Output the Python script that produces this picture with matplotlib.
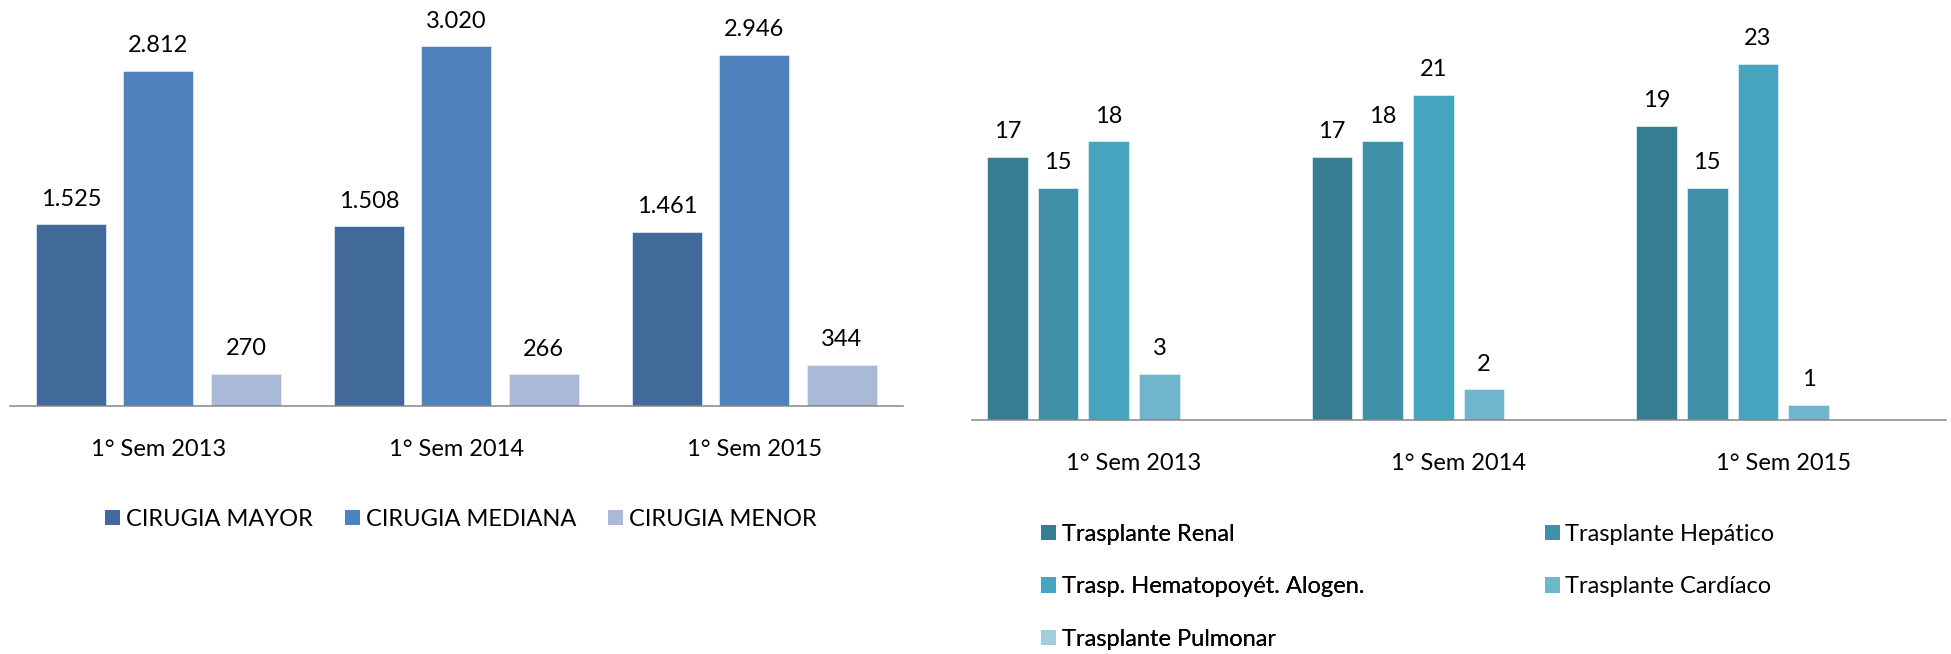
import numpy as np
import matplotlib
matplotlib.use("Agg")
import matplotlib.pyplot as plt
from matplotlib.patches import Patch

plt.rcParams['font.family'] = ['Lato', 'DejaVu Sans']

# ---------------- data ----------------
categories = ["1° Sem 2013", "1° Sem 2014", "1° Sem 2015"]

cir_series = ["CIRUGIA MAYOR", "CIRUGIA MEDIANA", "CIRUGIA MENOR"]
cir_mayor = [1525, 1508, 1461]
cir_mediana = [2812, 3020, 2946]
cir_menor = [270, 266, 344]
cir_colors = ["#41699A", "#4F81BD", "#A9B9D7"]

tx_series = ["Trasplante Renal", "Trasplante Hepático",
             "Trasp. Hematopoyét. Alogen.", "Trasplante Cardíaco",
             "Trasplante Pulmonar"]
tx_renal = [17, 17, 19]
tx_hepatico = [15, 18, 15]
tx_hemato = [18, 21, 23]
tx_cardiaco = [3, 2, 1]
tx_pulmonar = [np.nan, np.nan, np.nan]
tx_colors = ["#367D91", "#3F90A8", "#48A5BF", "#6FB5CC", "#A2CDDC"]

# ---------------- figure ----------------
W, H = 1951, 654
fig = plt.figure(figsize=(W / 100, H / 100), dpi=100)
FS = 17
HL = 0.635   # legend square size (em)


def fmt_thousands(v):
    return f"{int(v):,}".replace(",", ".")


def style_axes(ax):
    for s in ["top", "left", "right"]:
        ax.spines[s].set_visible(False)
    ax.spines["bottom"].set_color("#868686")
    ax.spines["bottom"].set_linewidth(1.1)
    ax.set_yticks([])
    ax.set_xticks(range(len(categories)))
    ax.set_xticklabels(categories, fontsize=FS, va="baseline")
    ax.tick_params(axis="x", length=0, pad=36)
    ax.set_xlim(-0.5, len(categories) - 0.5)
    ax.patch.set_alpha(0)


# ---------- left chart ----------
axL = fig.add_axes([9.5 / W, 248.3 / H, 893.8 / W, 405.7 / H])
x = np.arange(len(categories))
cir_data = [cir_mayor, cir_mediana, cir_menor]
stepL, widthL = 0.2937, 0.235
for i, (vals, col) in enumerate(zip(cir_data, cir_colors)):
    pos = x + (i - 1) * stepL
    axL.bar(pos, vals, width=widthL, color=col, edgecolor="#e8eef6",
            linewidth=0.5)
    for px, v in zip(pos, vals):
        axL.annotate(fmt_thousands(v), (px, v), xytext=(0, 13.2),
                     textcoords="offset points", ha="center", va="baseline",
                     fontsize=FS, color="black")
axL.set_ylim(0, 3405.6)
style_axes(axL)

handlesL = [Patch(facecolor=c, edgecolor="none") for c in cir_colors]
fig.legend(handlesL, cir_series, loc="center left",
           bbox_to_anchor=(105 / W, 1 - 519.5 / H), ncol=3, frameon=False,
           fontsize=FS, borderpad=0, borderaxespad=0,
           handlelength=HL, handleheight=HL, handletextpad=0.25,
           columnspacing=1.35)

# ---------- right chart ----------
axR = fig.add_axes([971.7 / W, 234 / H, 973.9 / W, 420 / H])
tx_data = [tx_renal, tx_hepatico, tx_hemato, tx_cardiaco, tx_pulmonar]
n_slots = 6
stepR, widthR = 0.1562, 0.125
for i, (vals, col) in enumerate(zip(tx_data, tx_colors)):
    pos = x + (i - (n_slots - 1) / 2) * stepR
    axR.bar(pos, vals, width=widthR, color=col, edgecolor="#e6f2f6",
            linewidth=0.5)
    for px, v in zip(pos, vals):
        if np.isnan(v):
            continue
        axR.annotate(f"{int(v)}", (px, v), xytext=(0, 13.2),
                     textcoords="offset points", ha="center", va="baseline",
                     fontsize=FS, color="black")
axR.set_ylim(0, 27.11)
style_axes(axR)

handlesR = [Patch(facecolor=c, edgecolor="none") for c in tx_colors]
col1 = [0, 2, 4]
col2 = [1, 3]
leg_kw = dict(loc="upper left", frameon=False, fontsize=FS, borderpad=0,
              borderaxespad=0, handlelength=HL, handleheight=HL,
              handletextpad=0.25, labelspacing=1.33)
leg1 = fig.legend([handlesR[i] for i in col1], [tx_series[i] for i in col1],
                  bbox_to_anchor=(1041 / W, 1 - 524 / H), **leg_kw)
fig.add_artist(leg1)
fig.legend([handlesR[i] for i in col2], [tx_series[i] for i in col2],
           bbox_to_anchor=(1544.6 / W, 1 - 524 / H), **leg_kw)

fig.savefig("out.png", dpi=100)
